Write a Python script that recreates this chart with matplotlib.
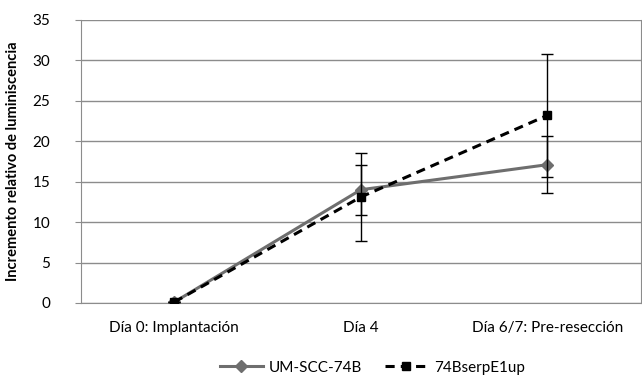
import matplotlib
matplotlib.use("Agg")
import matplotlib.pyplot as plt
from matplotlib.lines import Line2D
import numpy as np

categories = ["Día 0: Implantación", "Día 4", "Día 6/7: Pre-resección"]
s1_name = "UM-SCC-74B"
s1_vals = [0.1, 14.0, 17.1]
s1_err = [0.0, 3.1, 3.5]
s2_name = "74BserpE1up"
s2_vals = [0.1, 13.1, 23.2]
s2_err = [0.0, 5.4, 7.6]
yticks = [0, 5, 10, 15, 20, 25, 30, 35]

plt.rcParams['font.family'] = ['Lato', 'DejaVu Sans']

fig = plt.figure(figsize=(6.42, 3.83), dpi=100)
ax = fig.add_axes([0.126, 0.209, 0.872, 0.739])
x = np.arange(len(categories))

ax.set_ylim(0, 35)
ax.set_xlim(-0.5, 2.5)
ax.set_yticks(yticks)
ax.yaxis.grid(True, color="#8c8c8c", linewidth=1)
ax.set_axisbelow(True)

gray = "#6e6e6e"
ax.errorbar(x, s1_vals, yerr=s1_err, color=gray, linewidth=2.2, marker="D",
            markersize=6, ecolor="black", elinewidth=1, capsize=4, capthick=1, zorder=3)
ax.errorbar(x, s2_vals, yerr=s2_err, color="black", linewidth=2.2, linestyle=(0, (3, 2)),
            marker="s", markersize=6, ecolor="black", elinewidth=1, capsize=4, capthick=1, zorder=4)

ax.set_xticks(x)
ax.set_xticklabels(categories, fontsize=11)
ax.tick_params(axis='x', length=0, pad=13)
ax.tick_params(axis='y', labelsize=11, length=4, color="#8c8c8c", pad=18)
for s in ax.spines.values():
    s.set_color("#8c8c8c")
ax.spines['top'].set_visible(False)

ax.set_ylabel("Incremento relativo de luminiscencia", fontsize=10.5, fontweight="bold", labelpad=9)

handles = [
    Line2D([], [], color=gray, linewidth=2.2, marker="D", markersize=6),
    Line2D([], [], color="black", linewidth=2.2, linestyle=(0, (3, 2)), marker="s", markersize=6),
]
fig.legend(handles, [s1_name, s2_name], loc="center", bbox_to_anchor=(0.58, 0.04), ncol=2,
           frameon=False, fontsize=11, handlelength=2.8, columnspacing=1.5, handletextpad=0.4)

fig.savefig("out.png", dpi=100)
